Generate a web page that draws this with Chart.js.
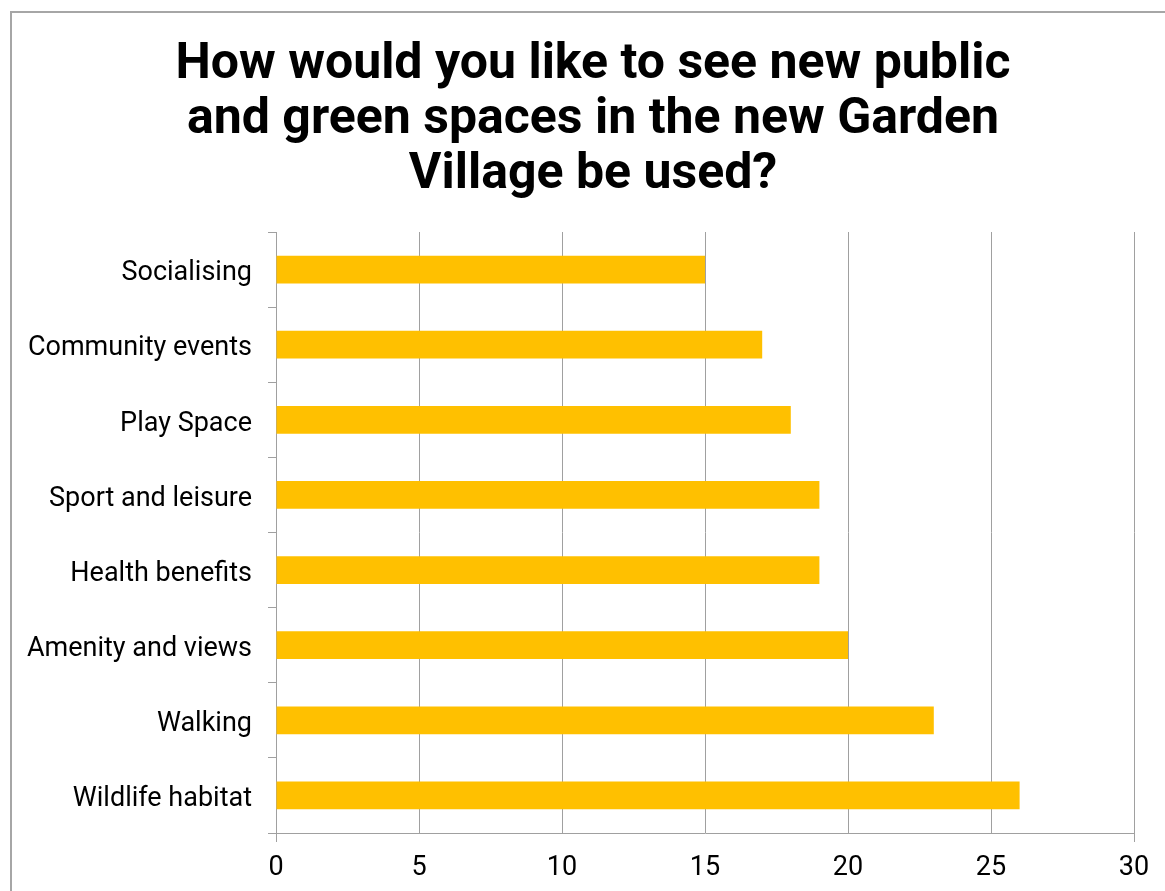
<!DOCTYPE html>
<html>
<head>
<meta charset="utf-8">
<script src="https://cdn.jsdelivr.net/npm/chart.js@4"></script>
<style>
  html, body { margin: 0; padding: 0; background: #fff; }
  #wrap { position: relative; width: 1165px; height: 891px; overflow: hidden; }
  #frame { position: absolute; left: 10px; top: 11px; width: 2000px; height: 2000px;
           border-left: 2px solid #a6a6a6; border-top: 2px solid #a6a6a6; }
  canvas { position: absolute; left: 0; top: 0; }
</style>
</head>
<body>
<div id="wrap">
  <div id="frame"></div>
  <canvas id="chart" width="1165" height="891"></canvas>
</div>
<script>
const titleLines = [
  'How would you like to see new public',
  'and green spaces in the new Garden',
  'Village be used?'
];
const categories = [
  'Socialising', 'Community events', 'Play Space', 'Sport and leisure',
  'Health benefits', 'Amenity and views', 'Walking', 'Wildlife habitat'
];
const responses = [15, 17, 18, 19, 19, 20, 23, 26];
const xTicks = [0, 5, 10, 15, 20, 25, 30];

const gridGrey = '#a0a0a0';
const fontFamily = 'Roboto, "DejaVu Sans", sans-serif';

// title sits a little right of the padded box centre
const titleShift = {
  id: 'titleShift',
  afterLayout(chart) {
    const t = chart.titleBlock;
    if (t) { t.left += 16; t.right += 16; }
  }
};

new Chart(document.getElementById('chart'), {
  type: 'bar',
  data: {
    labels: categories,
    datasets: [{
      label: 'Responses',
      data: responses,
      backgroundColor: '#ffc000',
      borderWidth: 0,
      barPercentage: 0.37,
      categoryPercentage: 1
    }]
  },
  plugins: [titleShift],
  options: {
    indexAxis: 'y',
    responsive: false,
    animation: false,
    layout: { padding: { left: 20, right: 31, top: 0, bottom: 0 } },
    plugins: {
      legend: { display: false },
      tooltip: { enabled: false },
      title: {
        display: true,
        text: titleLines,
        color: '#000',
        font: { family: fontFamily, size: 50, weight: 'bold', lineHeight: 1.1 },
        padding: { top: 38, bottom: 29 }
      }
    },
    scales: {
      x: {
        min: xTicks[0],
        max: xTicks[xTicks.length - 1],
        afterBuildTicks: (axis) => { axis.ticks = xTicks.map(v => ({ value: v })); },
        afterFit: (axis) => { axis.height = 58; },
        grid: {
          color: gridGrey,
          lineWidth: 1,
          drawTicks: true,
          tickLength: 9,
          tickColor: (ctx) => (ctx.index === 0 || ctx.index === xTicks.length - 1) ? gridGrey : 'rgba(0,0,0,0)'
        },
        border: { color: gridGrey, width: 1 },
        ticks: {
          color: '#000',
          padding: 10,
          font: { family: fontFamily, size: 27 }
        }
      },
      y: {
        afterFit: (axis) => { axis.width = 256; },
        grid: {
          display: true,
          drawOnChartArea: false,
          drawTicks: true,
          tickLength: 8,
          color: gridGrey,
          offset: true
        },
        border: { color: gridGrey, width: 1 },
        ticks: {
          color: '#000',
          padding: 16,
          labelOffset: 4,
          font: { family: fontFamily, size: 27 }
        }
      }
    }
  }
});
</script>
</body>
</html>
